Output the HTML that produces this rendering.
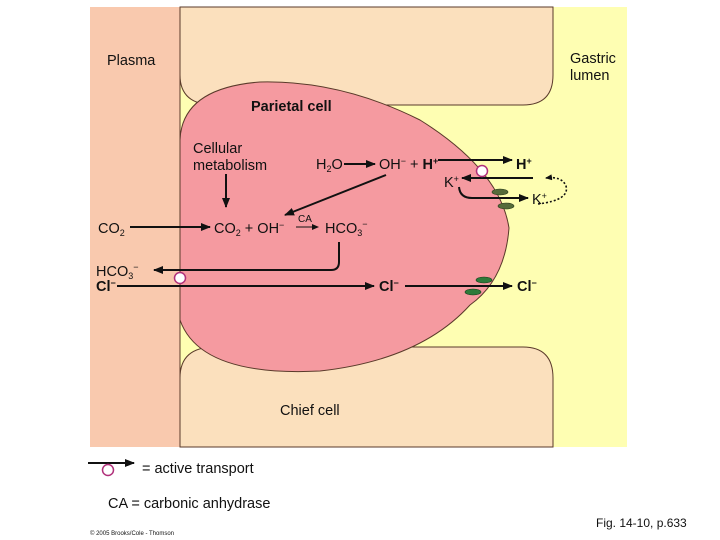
<!DOCTYPE html>
<html><head><meta charset="utf-8"><style>
html,body{margin:0;padding:0;background:#fff;}
svg{display:block;font-family:"Liberation Sans",Arial,sans-serif;}
</style></head><body>
<svg width="720" height="540" viewBox="0 0 720 540" xmlns="http://www.w3.org/2000/svg">
<defs>
<marker id="a" markerWidth="10" markerHeight="8" refX="9" refY="4" orient="auto" markerUnits="userSpaceOnUse"><path d="M0,0 L10,4 L0,8 z" fill="#111"/></marker>
<marker id="s" markerWidth="7" markerHeight="6" refX="6" refY="3" orient="auto" markerUnits="userSpaceOnUse"><path d="M0,0 L7,3 L0,6 z" fill="#111"/></marker>
</defs>
<rect x="90" y="7" width="537" height="440" fill="#fefeb2"/>
<rect x="90" y="7" width="90" height="440" fill="#f9c9ae"/>
<path d="M180,7 H553 V75 Q553,105 523,105 H215 Q180,105 180,75 Z" fill="#fbe0bd" stroke="#5a3a2a" stroke-width="1"/>
<path d="M180,447 H553 V378 Q553,347 523,347 H215 Q180,347 180,378 Z" fill="#fbe0bd" stroke="#5a3a2a" stroke-width="1"/>
<line x1="180" y1="7" x2="180" y2="447" stroke="#5a3a2a" stroke-width="1"/>
<path d="M180,140 Q182,88 260,82 Q340,80 420,120 Q500,170 509,228 Q505,280 470,305 Q420,360 320,371 Q200,377 180,320 Z" fill="#f59aa0" stroke="#5a3a2a" stroke-width="1"/>
<g fill="#111" font-size="14.5">
<text x="107" y="65">Plasma</text>
<text x="570" y="63">Gastric</text>
<text x="570" y="80">lumen</text>
<text x="251" y="111" font-weight="bold">Parietal cell</text>
<text x="193" y="153">Cellular</text>
<text x="193" y="170">metabolism</text>
<text x="316" y="169">H<tspan font-size="9" dy="3">2</tspan><tspan dy="-3">O</tspan></text>
<text x="379" y="169">OH<tspan font-size="9" dy="-5">−</tspan><tspan dy="5"> + </tspan><tspan font-weight="bold">H<tspan font-size="9" dy="-5">+</tspan></tspan></text>
<text x="516" y="169" font-weight="bold">H<tspan font-size="9" dy="-5">+</tspan></text>
<text x="444" y="187">K<tspan font-size="9" dy="-5">+</tspan></text>
<text x="532" y="204">K<tspan font-size="9" dy="-5">+</tspan></text>
<text x="98" y="233">CO<tspan font-size="9" dy="3">2</tspan></text>
<text x="214" y="233">CO<tspan font-size="9" dy="3">2</tspan><tspan dy="-3"> + OH</tspan><tspan font-size="9" dy="-5">−</tspan></text>
<text x="298" y="222" font-size="10">CA</text>
<text x="325" y="233">HCO<tspan font-size="9" dy="3">3</tspan><tspan font-size="9" dy="-9">−</tspan></text>
<text x="96" y="276">HCO<tspan font-size="9" dy="3">3</tspan><tspan font-size="9" dy="-9">−</tspan></text>
<text x="96" y="291" font-weight="bold">Cl<tspan font-size="9" dy="-5">−</tspan></text>
<text x="379" y="291" font-weight="bold">Cl<tspan font-size="9" dy="-5">−</tspan></text>
<text x="517" y="291" font-weight="bold">Cl<tspan font-size="9" dy="-5">−</tspan></text>
<text x="280" y="415">Chief cell</text>
<text x="142" y="473">= active transport</text>
<text x="108" y="508">CA = carbonic anhydrase</text>
<text x="596" y="527" font-size="12">Fig. 14-10, p.633</text>
<text x="90" y="535" font-size="6">© 2005 Brooks/Cole - Thomson</text>
</g>
<g stroke="#111" stroke-width="2" fill="none">
<line x1="226" y1="174" x2="226" y2="207" marker-end="url(#a)"/>
<line x1="344" y1="164" x2="375" y2="164" marker-end="url(#a)"/>
<line x1="438" y1="160" x2="512" y2="160" marker-end="url(#a)"/>
<line x1="533" y1="178" x2="462" y2="178" marker-end="url(#a)"/>
<path d="M459,187 Q460,198 472,198 H528" marker-end="url(#a)"/>
<line x1="386" y1="175" x2="285" y2="215" marker-end="url(#a)"/>
<line x1="130" y1="227" x2="210" y2="227" marker-end="url(#a)"/>
<path d="M339,242 V262 Q339,270 331,270 H154" marker-end="url(#a)"/>
<line x1="117" y1="286" x2="374" y2="286" marker-end="url(#a)"/>
<line x1="405" y1="286" x2="512" y2="286" marker-end="url(#a)"/>
<line x1="88" y1="463" x2="134" y2="463" marker-end="url(#a)"/>
</g>
<line x1="296" y1="227" x2="318" y2="227" stroke="#111" stroke-width="1" marker-end="url(#s)"/>
<path d="M538,204 Q570,200 566,186 Q562,176 546,178" stroke="#111" stroke-width="1.6" stroke-dasharray="2,2" fill="none" marker-end="url(#s)"/>
<g fill="#fff" stroke="#b0307a" stroke-width="1.5">
<circle cx="482" cy="171" r="5.5"/>
<circle cx="180" cy="278" r="5.5"/>
<circle cx="108" cy="470" r="5.5"/>
</g>
<g fill="#556b3a" stroke="#2a3a1a" stroke-width="0.6">
<ellipse cx="500" cy="192" rx="8" ry="3"/>
<ellipse cx="506" cy="206" rx="8" ry="3"/>
</g>
<g fill="#2e7a3a" stroke="#1a3a1a" stroke-width="0.6">
<ellipse cx="484" cy="280" rx="8" ry="3"/>
<ellipse cx="473" cy="292" rx="8" ry="3"/>
</g>
</svg>
</body></html>
